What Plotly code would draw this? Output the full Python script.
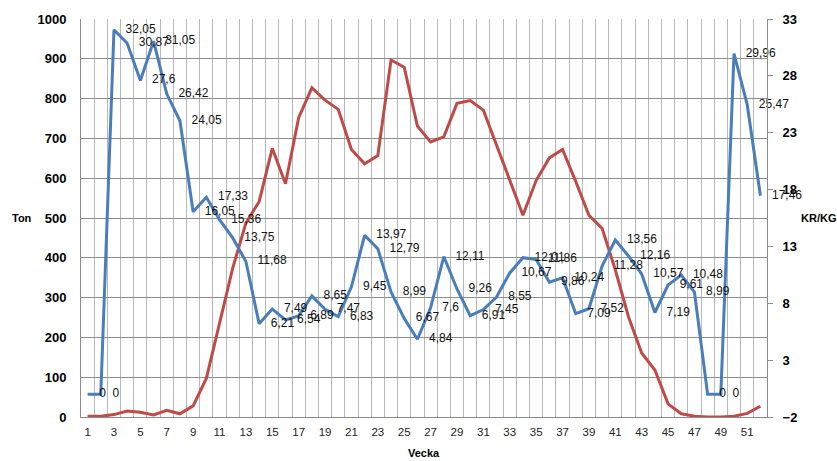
import plotly.graph_objects as go

weeks = list(range(1, 53))

price_kr_kg = [0, 0, 32.05, 30.87, 27.6, 31.05, 26.42, 24.05, 16.05, 17.33,
               15.36, 13.75, 11.68, 6.21, 7.49, 6.54, 6.89, 8.65, 7.47, 6.83,
               9.45, 13.97, 12.79, 8.99, 6.67, 4.84, 7.6, 12.11, 9.26, 6.91,
               7.45, 8.55, 10.67, 12.01, 11.86, 9.86, 10.24, 7.09, 7.52, 11.28,
               13.56, 12.16, 10.57, 7.19, 9.61, 10.48, 8.99, 0, 0, 29.96,
               25.47, 17.46]

volume_ton = [2, 2, 6, 15, 12, 5, 17, 8, 28, 97,
              235, 374, 487, 541, 675, 586, 752, 827, 796, 773,
              672, 636, 657, 897, 879, 731, 691, 704, 788, 795,
              771, 684, 593, 507, 594, 651, 672, 592, 507, 474,
              370, 252, 161, 118, 33, 8, 2, 0, 0, 2,
              9, 27]

left_ticks = list(range(0, 1001, 100))
right_ticks = [-2, 3, 8, 13, 18, 23, 28, 33]
x_ticks = list(range(1, 53, 2))

price_labels = [f"{v:g}".replace(".", ",") for v in price_kr_kg]

BLUE = "#4A7EBB"
RED = "#BE4B48"
FONT = "Liberation Sans"

fig = go.Figure()
fig.add_trace(go.Scatter(
    x=weeks, y=volume_ton, mode="lines", name="Ton",
    line=dict(color=RED, width=3), yaxis="y"))
fig.add_trace(go.Scatter(
    x=weeks, y=price_kr_kg, mode="lines+markers+text", name="KR/KG",
    line=dict(color=BLUE, width=3),
    marker=dict(size=17, color="rgba(0,0,0,0)"),
    text=price_labels, textposition="middle right",
    textfont=dict(family=FONT, size=12, color="#111111"),
    cliponaxis=False, yaxis="y2"))

fig.update_layout(
    width=837, height=461,
    margin=dict(l=81, r=70, t=19, b=44),
    paper_bgcolor="white", plot_bgcolor="white",
    showlegend=False,
    xaxis=dict(
        range=[0.5, 52.5], tickmode="array", tickvals=x_ticks,
        ticktext=[str(t) for t in x_ticks],
        showgrid=False, zeroline=False, ticks="",
        showline=True, linecolor="#8c8c8c", linewidth=1,
        tickfont=dict(family=FONT, size=11.5, color="#222"),
        ticklabelstandoff=4,
        minor=dict(tickmode="linear", tick0=0.5, dtick=1, showgrid=True,
                   gridcolor="#b8b8b8", gridwidth=1, ticks=""),
        automargin=False),
    yaxis=dict(
        range=[0, 1000], tickmode="array", tickvals=left_ticks,
        showgrid=True, gridcolor="#8c8c8c", gridwidth=1, zeroline=False,
        showline=True, linecolor="#8c8c8c", ticks="",
        tickfont=dict(family=FONT, size=13, color="black", weight="bold"),
        ticklabelstandoff=11, automargin=False),
    yaxis2=dict(
        range=[-2, 33], tickmode="array", tickvals=right_ticks,
        overlaying="y", side="right", showgrid=False, zeroline=False,
        showline=True, linecolor="#8c8c8c", ticks="outside", ticklen=5,
        tickcolor="#8c8c8c",
        tickfont=dict(family=FONT, size=13, color="black", weight="bold"),
        ticklabelstandoff=7, automargin=False),
    annotations=[
        dict(text="Ton", xref="paper", yref="paper", x=-0.0864, y=0.5,
             showarrow=False, xanchor="center", yanchor="middle",
             font=dict(family=FONT, size=11, color="black", weight="bold")),
        dict(text="KR/KG", xref="paper", yref="paper", x=1.0758, y=0.5,
             showarrow=False, xanchor="center", yanchor="middle",
             font=dict(family=FONT, size=11, color="black", weight="bold")),
        dict(text="Vecka", xref="paper", yref="paper", x=0.5, y=-0.0897,
             showarrow=False, xanchor="center", yanchor="middle",
             font=dict(family=FONT, size=11, color="black", weight="bold")),
    ],
)

fig.write_html(
    "out.html",
    config={"displayModeBar": False},
    post_script="document.body.style.margin='0';"
                "document.body.style.overflow='hidden';"
                "document.documentElement.style.overflow='hidden';",
)
